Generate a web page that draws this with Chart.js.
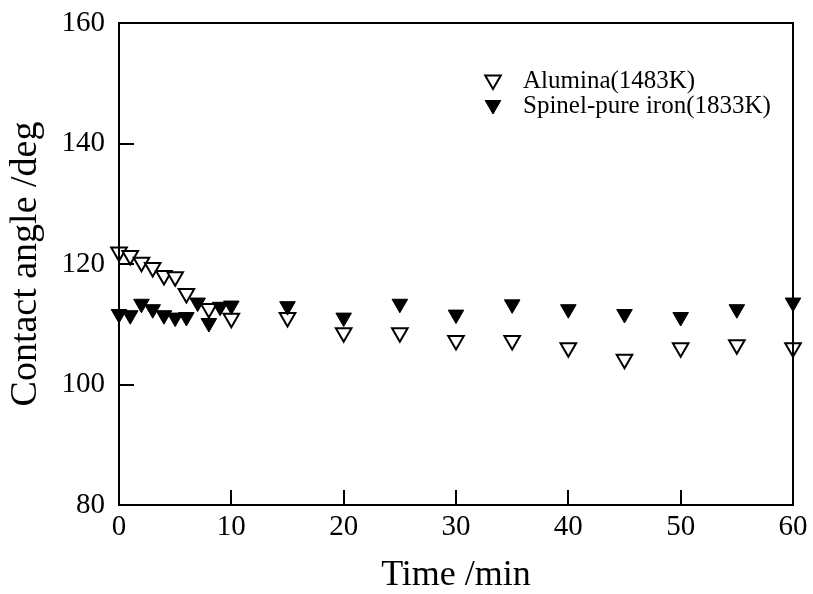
<!DOCTYPE html>
<html>
<head>
<meta charset="utf-8">
<script src="https://cdn.jsdelivr.net/npm/chart.js@4/dist/chart.umd.min.js"></script>
<style>
  html, body { margin: 0; padding: 0; background: #fff; }
  #wrap { width: 813px; height: 594px; }
</style>
</head>
<body>
<div id="wrap"><canvas id="c" width="813" height="594"></canvas></div>
<script>
// Contact angle over time for two substrates
const aluminaTime  = [0, 1, 2, 3, 4, 5, 6, 8, 10, 15, 20, 25, 30, 35, 40, 45, 50, 55, 60];
const aluminaAngle = [122.0, 121.4, 120.3, 119.4, 118.1, 117.9, 115.1, 112.6, 111.0, 111.1, 108.6, 108.6, 107.3, 107.3, 106.1, 104.2, 106.1, 106.6, 106.1];

const spinelTime  = [0, 1, 2, 3, 4, 5, 6, 7, 8, 9, 10, 15, 20, 25, 30, 35, 40, 45, 50, 55, 60];
const spinelAngle = [111.7, 111.5, 113.4, 112.5, 111.5, 111.1, 111.2, 113.6, 110.2, 112.9, 113.1, 113.0, 111.1, 113.4, 111.6, 113.3, 112.5, 111.7, 111.2, 112.5, 113.6];

const seriesNames = ['Alumina(1483K)', 'Spinel-pure iron(1833K)'];
const xTicks = [0, 10, 20, 30, 40, 50, 60];
const yTicks = [80, 100, 120, 140, 160];

const FONT = '"Liberation Serif", "Times New Roman", serif';

function toPoints(xs, ys) { return xs.map((x, i) => ({ x: x, y: ys[i] })); }

const markerOpen   = { pointStyle: 'triangle', rotation: 180, radius: 9, borderWidth: 2, borderColor: '#000', backgroundColor: '#fff' };
const markerFilled = { pointStyle: 'triangle', rotation: 180, radius: 9, borderWidth: 1, borderColor: '#000', backgroundColor: '#000' };

// Frame, inward tick marks and the in-plot legend
const framePlugin = {
  id: 'frame',
  afterDraw(chart) {
    const { ctx, chartArea: a, scales } = chart;
    ctx.save();
    ctx.strokeStyle = '#000';
    ctx.lineWidth = 2;
    ctx.strokeRect(a.left, a.top, a.right - a.left, a.bottom - a.top);
    ctx.beginPath();
    yTicks.forEach(v => {
      const py = Math.round(scales.y.getPixelForValue(v));
      ctx.moveTo(a.left, py); ctx.lineTo(a.left + 15, py);
    });
    xTicks.forEach(v => {
      const px = Math.round(scales.x.getPixelForValue(v));
      ctx.moveTo(px, a.bottom); ctx.lineTo(px, a.bottom - 15);
    });
    ctx.stroke();

    // legend
    const lx = 493, rows = [80, 105];
    const styles = [markerOpen, markerFilled];
    ctx.font = '25px ' + FONT;
    ctx.textBaseline = 'middle';
    ctx.textAlign = 'left';
    rows.forEach((ly, i) => {
      const s = styles[i];
      ctx.fillStyle = s.backgroundColor;
      ctx.strokeStyle = s.borderColor;
      ctx.lineWidth = s.borderWidth;
      Chart.helpers.drawPoint(ctx, { pointStyle: s.pointStyle, rotation: s.rotation, radius: s.radius, borderWidth: s.borderWidth }, lx, ly);
      ctx.fillStyle = '#000';
      ctx.fillText(seriesNames[i], 523, ly + 1);
    });
    ctx.restore();
  }
};

new Chart(document.getElementById('c'), {
  type: 'scatter',
  data: {
    datasets: [
      {
        label: seriesNames[0],
        data: toPoints(aluminaTime, aluminaAngle),
        order: 1,
        clip: false,
        pointStyle: markerOpen.pointStyle,
        pointRotation: markerOpen.rotation,
        pointRadius: markerOpen.radius,
        pointBorderWidth: markerOpen.borderWidth,
        pointBorderColor: markerOpen.borderColor,
        pointBackgroundColor: markerOpen.backgroundColor,
        showLine: false
      },
      {
        label: seriesNames[1],
        data: toPoints(spinelTime, spinelAngle),
        order: 0,
        clip: false,
        pointStyle: markerFilled.pointStyle,
        pointRotation: markerFilled.rotation,
        pointRadius: markerFilled.radius,
        pointBorderWidth: markerFilled.borderWidth,
        pointBorderColor: markerFilled.borderColor,
        pointBackgroundColor: markerFilled.backgroundColor,
        showLine: false
      }
    ]
  },
  options: {
    responsive: false,
    animation: false,
    layout: { padding: { top: 23, right: 20, bottom: 0, left: 0 } },
    plugins: { legend: { display: false }, tooltip: { enabled: false } },
    scales: {
      x: {
        type: 'linear',
        min: 0, max: 60,
        afterBuildTicks: s => { s.ticks = xTicks.map(v => ({ value: v })); },
        afterFit: s => { s.height = 89; s.paddingLeft = 0; s.paddingRight = 0; },
        grid: { display: false, drawTicks: false },
        border: { display: false },
        ticks: { color: '#000', font: { family: FONT, size: 29 }, padding: 5, maxRotation: 0 },
        title: { display: true, text: 'Time /min', color: '#000', font: { family: FONT, size: 36, lineHeight: 1.0 }, padding: { top: 0, bottom: 0 } }
      },
      y: {
        type: 'linear',
        min: 80, max: 160,
        afterBuildTicks: s => { s.ticks = yTicks.map(v => ({ value: v })); },
        afterFit: s => { s.width = 119; s.paddingTop = 0; s.paddingBottom = 0; },
        grid: { display: false, drawTicks: false },
        border: { display: false },
        ticks: { color: '#000', font: { family: FONT, size: 29 }, padding: 14 },
        title: { display: true, text: 'Contact angle /deg', color: '#000', font: { family: FONT, size: 38, lineHeight: 1.0 }, padding: { top: 7, bottom: 0 } }
      }
    }
  },
  plugins: [framePlugin]
});
</script>
</body>
</html>
